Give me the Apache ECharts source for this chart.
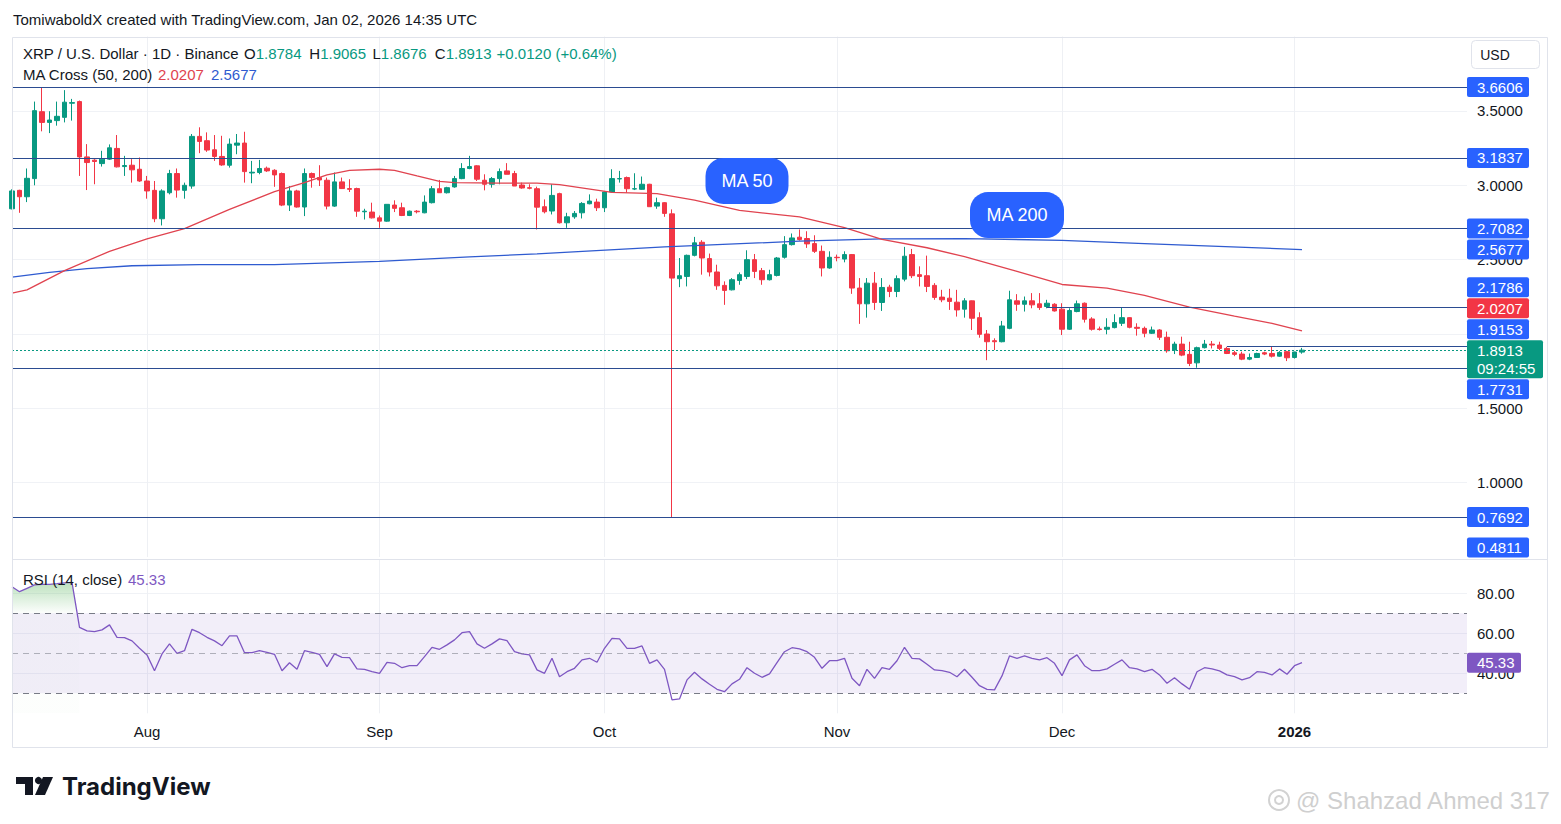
<!DOCTYPE html>
<html><head><meta charset="utf-8">
<script src="https://cdn.jsdelivr.net/npm/echarts@6/dist/echarts.min.js"></script>
<style>html,body{margin:0;padding:0;background:#fff;overflow:hidden}#chart{width:1561px;height:824px}</style>
</head><body><div id="chart"></div>
<script>
// ---------- DATA ----------
const startDate = [2025, 6, 14];   // 14 Jul 2025 (month 0-based)
const dayCount = 195;              // daily categories shown on the time axis
const monthNames = ['Jan','Feb','Mar','Apr','May','Jun','Jul','Aug','Sep','Oct','Nov','Dec'];

const opens = [
2.842,2.966,2.923,3.045,3.495,3.423,3.435,3.457,3.552,3.563,
3.191,3.169,3.146,3.176,3.248,3.126,3.135,3.108,3.029,2.966,
2.775,2.950,3.079,2.966,2.995,3.329,3.300,3.239,3.194,3.135,
3.270,3.284,3.083,3.086,3.115,3.101,3.079,2.867,2.962,2.854,
3.079,3.052,3.034,2.860,3.023,2.978,2.978,2.822,2.820,2.781,
2.759,2.867,2.849,2.797,2.826,2.815,2.883,2.977,2.950,2.989,
3.045,3.113,3.131,3.034,3.007,3.045,3.097,3.079,3.002,2.984,
2.977,2.856,2.827,2.944,2.748,2.788,2.815,2.876,2.887,2.849,
2.955,3.043,3.052,2.975,2.973,3.007,2.860,2.883,2.808,2.372,
2.387,2.529,2.617,2.507,2.417,2.327,2.297,2.360,2.387,2.500,
2.426,2.365,2.394,2.516,2.601,2.651,2.642,2.608,2.556,2.444,
2.516,2.504,2.534,2.309,2.203,2.342,2.212,2.315,2.286,2.369,
2.534,2.399,2.392,2.327,2.248,2.241,2.214,2.167,2.223,2.110,
2.000,1.955,1.948,2.038,2.223,2.200,2.223,2.203,2.185,2.200,
2.167,2.032,2.151,2.207,2.101,2.034,2.032,2.043,2.072,2.110,
2.045,2.038,2.005,2.027,1.978,1.892,1.932,1.863,1.806,1.908,
1.932,1.926,1.903,1.874,1.865,1.831,1.842,1.874,1.869,1.851,
1.881,1.842,1.8784];
const highs = [
2.973,2.970,3.113,3.563,3.6606,3.498,3.563,3.640,3.581,3.570,
3.277,3.176,3.232,3.275,3.338,3.198,3.176,3.187,3.063,3.029,
2.973,3.104,3.113,3.018,3.345,3.390,3.356,3.338,3.333,3.315,
3.345,3.360,3.164,3.171,3.126,3.108,3.086,2.995,2.970,3.113,
3.086,3.135,3.052,3.086,3.052,3.041,2.984,2.842,2.883,2.797,
2.872,2.899,2.883,2.830,2.833,2.932,2.995,3.036,2.990,3.063,
3.149,3.198,3.135,3.074,3.056,3.113,3.149,3.097,3.018,3.007,
2.991,2.905,3.007,2.950,2.815,2.827,2.887,2.939,2.910,2.962,
3.108,3.097,3.059,3.081,3.059,3.010,2.917,2.887,2.838,2.511,
2.534,2.653,2.631,2.541,2.466,2.354,2.376,2.414,2.563,2.538,
2.444,2.432,2.518,2.658,2.676,2.703,2.691,2.664,2.595,2.556,
2.534,2.556,2.538,2.376,2.376,2.417,2.376,2.331,2.394,2.586,
2.572,2.455,2.527,2.342,2.297,2.304,2.297,2.241,2.225,2.146,
2.027,1.971,2.088,2.291,2.268,2.252,2.275,2.275,2.230,2.207,
2.207,2.173,2.225,2.212,2.113,2.050,2.106,2.133,2.180,2.113,
2.072,2.050,2.050,2.032,2.016,1.948,1.982,1.948,1.915,1.960,
1.953,1.948,1.914,1.887,1.881,1.869,1.874,1.881,1.914,1.885,
1.887,1.881,1.9065];
const lows = [
2.838,2.815,2.887,3.000,3.363,3.351,3.401,3.423,3.435,3.063,
2.968,3.007,3.126,3.170,3.120,3.063,3.018,3.023,2.910,2.752,
2.730,2.939,2.917,2.910,2.977,3.216,3.225,3.164,3.131,3.119,
3.209,3.018,3.014,3.074,3.090,2.990,2.860,2.827,2.850,2.793,
2.984,2.995,2.838,2.855,2.975,2.955,2.788,2.770,2.777,2.714,
2.755,2.820,2.793,2.793,2.811,2.812,2.878,2.950,2.945,2.984,
3.041,3.108,3.029,2.966,2.984,3.007,3.074,2.995,2.977,2.973,
2.703,2.811,2.804,2.743,2.714,2.775,2.777,2.872,2.827,2.820,
2.950,3.018,2.950,2.968,2.970,2.856,2.842,2.788,0.7692,2.315,
2.320,2.522,2.399,2.387,2.297,2.196,2.293,2.331,2.369,2.376,
2.331,2.360,2.387,2.507,2.595,2.628,2.579,2.545,2.387,2.439,
2.489,2.482,2.270,2.068,2.110,2.162,2.155,2.248,2.248,2.354,
2.376,2.320,2.282,2.230,2.214,2.162,2.117,2.110,2.027,1.975,
1.824,1.892,1.944,2.032,2.156,2.151,2.173,2.162,2.173,2.151,
1.993,2.027,2.146,2.077,2.023,2.023,1.998,2.038,2.054,2.038,
1.989,1.978,2.000,1.960,1.874,1.865,1.851,1.784,1.7731,1.903,
1.903,1.892,1.865,1.851,1.824,1.824,1.840,1.858,1.842,1.847,
1.818,1.835,1.8676];
const closes = [
2.962,2.923,3.047,3.502,3.423,3.439,3.464,3.559,3.556,3.191,
3.153,3.160,3.176,3.252,3.124,3.133,3.104,3.029,2.962,2.775,
2.962,3.079,2.968,3.000,3.329,3.295,3.237,3.194,3.137,3.277,
3.284,3.092,3.088,3.113,3.097,3.070,2.867,2.962,2.854,3.079,
3.052,3.036,2.860,3.023,2.978,2.973,2.826,2.826,2.781,2.759,
2.872,2.845,2.797,2.826,2.822,2.887,2.977,2.950,2.984,3.045,
3.113,3.126,3.041,3.007,3.045,3.092,3.074,2.995,2.982,2.980,
2.853,2.822,2.932,2.748,2.788,2.811,2.878,2.894,2.849,2.955,
3.045,3.045,2.977,2.977,3.007,2.856,2.883,2.811,2.376,2.392,
2.529,2.613,2.511,2.417,2.324,2.293,2.365,2.399,2.500,2.421,
2.365,2.399,2.511,2.601,2.646,2.635,2.606,2.556,2.444,2.516,
2.513,2.534,2.309,2.203,2.342,2.212,2.313,2.286,2.372,2.523,
2.392,2.387,2.320,2.246,2.230,2.219,2.162,2.223,2.106,1.998,
1.948,1.948,2.054,2.230,2.200,2.223,2.196,2.178,2.207,2.155,
2.032,2.158,2.203,2.099,2.032,2.030,2.045,2.077,2.110,2.045,
2.038,2.005,2.027,1.978,1.887,1.932,1.858,1.802,1.908,1.932,
1.926,1.903,1.869,1.863,1.831,1.842,1.869,1.865,1.851,1.876,
1.840,1.879,1.8913];

const rsiValues = [
83.3,80.8,82.5,84.2,84.5,84.5,84.8,85.2,85.5,63.0,
61.2,60.8,61.7,64.2,58.0,57.8,56.2,52.5,49.2,41.3,
49.7,54.7,50.0,51.3,62.0,60.3,58.0,56.2,53.8,58.7,
58.7,50.3,50.3,51.3,50.5,49.5,41.3,45.3,42.0,51.3,
50.5,49.5,43.3,49.7,48.0,47.8,42.2,42.0,40.8,40.0,
45.5,45.0,42.8,43.8,43.8,48.3,53.0,52.0,54.2,56.7,
60.3,60.8,54.7,52.5,54.7,57.2,56.3,50.8,49.7,49.2,
41.7,40.0,47.5,38.3,40.8,42.5,46.7,47.5,45.5,52.5,
57.5,57.2,52.5,52.5,53.7,45.0,46.7,42.0,26.7,27.2,
36.7,40.5,37.2,34.5,32.0,30.8,34.7,37.0,42.8,40.0,
38.0,39.7,45.3,50.8,52.8,52.2,50.8,48.0,42.5,46.3,
46.3,47.5,37.5,33.8,42.0,37.5,42.8,42.0,46.3,53.0,
47.5,47.2,44.5,41.7,41.3,40.5,38.3,42.0,38.0,33.8,
32.0,31.7,38.7,48.7,47.5,48.7,47.5,46.7,47.8,45.0,
38.8,46.7,49.2,43.8,41.3,41.3,42.2,44.5,46.7,42.8,
42.2,40.8,42.0,39.2,35.0,37.8,34.7,32.0,40.8,42.8,
42.2,41.2,39.2,38.3,36.7,37.8,40.8,40.5,39.2,42.2,
39.5,43.8,45.33];
const rsiOverboughtCount = 10;   // first points where RSI sits above 70

// moving averages read at sample days (day index from 14 Jul)
const ma50Days = [0,2,7,13,18,23,29,35,39,42,45,49,51,54,57,59,65,70,73,80,86,91,97,105,111,116,122,127,134,140,146,151,157,163,168,172];
const ma50Values = [2.275,2.297,2.426,2.556,2.639,2.709,2.838,2.957,3.018,3.070,3.100,3.108,3.100,3.063,3.027,3.018,3.014,3.014,3.004,2.952,2.944,2.900,2.831,2.787,2.716,2.637,2.580,2.520,2.421,2.333,2.308,2.260,2.180,2.120,2.072,2.0207];
const ma200Days = [0,5,10,16,25,35,49,61,70,87,105,116,127,140,151,160,172];
const ma200Values = [2.383,2.414,2.439,2.459,2.466,2.466,2.489,2.518,2.539,2.586,2.624,2.640,2.642,2.630,2.608,2.591,2.5677];

// drawn horizontal levels
const fullLevels = [3.6606, 3.1837, 2.7082, 1.7731, 0.7692];
const rayLevels = [[138, 2.1786], [162, 1.9153]];
const offLevels = [0.4811];
const lastPrice = 1.8913, countdown = '09:24:55';
const ma50Last = 2.0207, ma200Last = 2.5677, rsiLast = 45.33;
const priceAxis = {min: 0.5, max: 4.0, step: 0.5};
const rsiAxis = {min: 20, max: 97.15, step: 20};
const rsiBands = {upper: 70, mid: 50, lower: 30};
const ohlcLegend = {O: '1.8784', H: '1.9065', L: '1.8676', C: '1.8913', chg: '+0.0120 (+0.64%)'};
const bubbles = [{text: 'MA 50', day: 98, price: 3.029, w: 83}, {text: 'MA 200', day: 134, price: 2.800, w: 94}];

// ---------- BUILD ----------
const F = '"Liberation Sans", Arial, sans-serif';
const DARK = '#131722', UP = '#089981', DOWN = '#F23645', BLUE = '#2962FF', LINE = '#2B4C91', PURPLE = '#7E57C2';
const MA50C = '#E0434F', MA200C = '#2F5BD0';
const categories = [];
const t0 = Date.UTC(startDate[0], startDate[1], startDate[2]);
for (let i = 0; i < dayCount; i++) categories.push(new Date(t0 + i * 864e5).toISOString().slice(0, 10));
const isMonthStart = (idx, val) => val.slice(8) === '01';
const candleData = opens.map((o, i) => [o, closes[i], lows[i], highs[i]]);
const ma50Data = ma50Days.map((d, i) => [categories[d], ma50Values[i]]);
const ma200Data = ma200Days.map((d, i) => [categories[d], ma200Values[i]]);
const lastCat = categories[dayCount - 1];

const hLines = fullLevels.map(v => ({yAxis: v}));
rayLevels.forEach(([d, v]) => hLines.push([{coord: [categories[d], v]}, {coord: [lastCat, v]}]));
hLines.push({yAxis: lastPrice, lineStyle: {type: [2, 2], color: UP, width: 1}});

const bubblePoint = b => ({coord: [categories[b.day], b.price],
  label: {show: true, position: 'inside', formatter: b.text, color: '#fff', fontSize: 18, fontFamily: F,
    backgroundColor: BLUE, borderRadius: 18, width: b.w, height: 46, lineHeight: 46, align: 'center', verticalAlign: 'middle'}});

// tick labels hidden when a price tag fully covers them (filled after layout)
let coveredPrice = [];
const priceLabel = v => coveredPrice.some(c => Math.abs(c - v) < 1e-9) ? '' : v.toFixed(4);

const GL = 12, GR = 94;
const option = {
  animation: false,
  textStyle: {fontFamily: F},
  grid: [
    {left: GL, right: GR, top: 36.6, height: 520.45},
    {left: GL, right: GR, top: 559, height: 154.3}
  ],
  xAxis: [
    {type: 'category', gridIndex: 0, data: categories, boundaryGap: false,
     axisLine: {show: false}, axisTick: {show: false}, axisLabel: {show: false},
     splitLine: {show: true, interval: isMonthStart, lineStyle: {color: '#eef0f4'}}},
    {type: 'category', gridIndex: 1, data: categories, boundaryGap: false,
     axisLine: {show: false}, axisTick: {show: false},
     axisLabel: {interval: isMonthStart, color: DARK, fontSize: 15, fontFamily: F, margin: 11,
       formatter: v => { const p = v.split('-'); return p[1] === '01' ? '{b|' + p[0] + '}' : monthNames[+p[1] - 1]; },
       rich: {b: {fontWeight: 'bold', fontSize: 15, color: DARK, fontFamily: F}}},
     splitLine: {show: true, interval: isMonthStart, lineStyle: {color: '#eef0f4'}}}
  ],
  yAxis: [
    {type: 'value', gridIndex: 0, position: 'right', min: priceAxis.min, max: priceAxis.max, interval: priceAxis.step,
     axisLine: {show: false}, axisTick: {show: false},
     axisLabel: {formatter: priceLabel, color: DARK, fontSize: 15, fontFamily: F, margin: 10, showMinLabel: false, showMaxLabel: false},
     splitLine: {lineStyle: {color: '#f0f2f6'}, showMinLine: false, showMaxLine: false}},
    {type: 'value', gridIndex: 1, position: 'right', min: rsiAxis.min, max: rsiAxis.max, interval: rsiAxis.step,
     axisLine: {show: false}, axisTick: {show: false},
     axisLabel: {formatter: v => v.toFixed(2), color: DARK, fontSize: 15, fontFamily: F, margin: 10, showMinLabel: false, showMaxLabel: false},
     splitLine: {lineStyle: {color: '#f0f2f6'}, showMinLine: false, showMaxLine: false}}
  ],
  series: [
    {type: 'candlestick', xAxisIndex: 0, yAxisIndex: 0, data: candleData, barWidth: 5, clip: true,
     itemStyle: {color: UP, color0: DOWN, borderColor: UP, borderColor0: DOWN, borderWidth: 1},
     markLine: {silent: true, symbol: ['none', 'none'], label: {show: false}, animation: false,
       lineStyle: {color: LINE, width: 1, type: 'solid'}, data: hLines}, z: 2},
    {type: 'line', name: 'MA200', xAxisIndex: 0, yAxisIndex: 0, data: ma200Data, showSymbol: false, symbol: 'none',
     lineStyle: {color: MA200C, width: 1.3}, z: 3,
     markPoint: {symbol: 'rect', symbolSize: 1, itemStyle: {color: 'rgba(0,0,0,0)'}, silent: true, data: [bubblePoint(bubbles[1])]}},
    {type: 'line', name: 'MA50', xAxisIndex: 0, yAxisIndex: 0, data: ma50Data, showSymbol: false, symbol: 'none',
     lineStyle: {color: MA50C, width: 1.3}, z: 3,
     markPoint: {symbol: 'rect', symbolSize: 1, itemStyle: {color: 'rgba(0,0,0,0)'}, silent: true, data: [bubblePoint(bubbles[0])]}},
    {type: 'line', id: 'rsiOB', xAxisIndex: 1, yAxisIndex: 1, data: rsiValues.slice(0, rsiOverboughtCount),
     showSymbol: false, symbol: 'none', lineStyle: {width: 0, opacity: 0}, areaStyle: {color: 'rgba(76,175,80,0)'}, z: 1},
    {type: 'line', name: 'RSI', xAxisIndex: 1, yAxisIndex: 1, data: rsiValues, showSymbol: false, symbol: 'none',
     lineStyle: {color: PURPLE, width: 1.3}, z: 3,
     markArea: {silent: true, itemStyle: {color: 'rgba(126,87,194,0.1)'}, data: [[{yAxis: rsiBands.lower}, {yAxis: rsiBands.upper}]]},
     markLine: {silent: true, symbol: ['none', 'none'], label: {show: false},
       lineStyle: {color: '#787B86', width: 1, type: [6, 5]},
       data: [{yAxis: rsiBands.upper}, {yAxis: rsiBands.mid, lineStyle: {color: 'rgba(120,123,134,0.55)', type: [6, 5]}}, {yAxis: rsiBands.lower}]}}
  ]
};

const chart = echarts.init(document.getElementById('chart'), null, {renderer: 'svg', width: 1561, height: 824});
chart.setOption(option);

// ---------- OVERLAYS (positions from the chart's own scales) ----------
const yP = v => chart.convertToPixel({yAxisIndex: 0}, v);
const yR = v => chart.convertToPixel({yAxisIndex: 1}, v);
const G = [];
const txt = (x, y, text, fill, size, extra) => Object.assign({type: 'text', x, y, z: 100,
  style: {text, fill, fontSize: size || 15, fontFamily: F, verticalAlign: 'middle'}}, extra || {});

// frame
G.push({type: 'rect', z: 90, shape: {x: 12.5, y: 37.5, width: 1535, height: 710}, style: {fill: 'none', stroke: '#e0e3eb', lineWidth: 1}});
G.push({type: 'line', z: 90, shape: {x1: 12, y1: 559.5, x2: 1548, y2: 559.5}, style: {stroke: '#e0e3eb', lineWidth: 1}});

// header and legends
G.push(txt(13, 19, 'TomiwaboldX created with TradingView.com, Jan 02, 2026 14:35 UTC', DARK));
G.push(txt(23, 53, 'XRP / U.S. Dollar · 1D · Binance', DARK));
const rich = {k: {fill: DARK, fontSize: 15, fontFamily: F}, v: {fill: UP, fontSize: 15, fontFamily: F}};
[['O', 244], ['H', 309.3], ['L', 372.5], ['C', 434.8]].forEach(([k, x]) => {
  G.push({type: 'text', x, y: 53, z: 100, style: {text: '{k|' + k + '}{v|' + ohlcLegend[k] + '}', rich, verticalAlign: 'middle', fontSize: 15, fontFamily: F}});
});
G.push(txt(496.6, 53, ohlcLegend.chg, UP));
G.push(txt(23, 74, 'MA Cross (50, 200)', DARK));
G.push(txt(158, 74, ma50Last.toFixed(4), MA50C));
G.push(txt(211, 74, ma200Last.toFixed(4), MA200C));
G.push(txt(23, 579, 'RSI (14, close)', DARK));
G.push(txt(128, 579, rsiLast.toFixed(2), PURPLE));

// USD button
G.push({type: 'rect', z: 100, shape: {x: 1471.5, y: 40.5, width: 68, height: 28, r: 4}, style: {fill: '#fff', stroke: '#e0e3eb', lineWidth: 1}});
G.push({type: 'text', x: 1495, y: 55, z: 101, style: {text: 'USD', fill: DARK, fontSize: 14, fontFamily: F, align: 'center', verticalAlign: 'middle'}});

// price scale tags with collision resolution
const tags = [];
fullLevels.concat(offLevels).forEach(v => tags.push({v, bg: BLUE}));
rayLevels.forEach(([d, v]) => tags.push({v, bg: BLUE}));
tags.push({v: ma50Last, bg: DOWN});
tags.push({v: ma200Last, bg: BLUE});
tags.push({v: lastPrice, bg: UP, sub: countdown, anchor: true});
tags.forEach(t => { t.y = yP(t.v); t.h = t.sub ? 38 : 20; t.top = t.y - 10; t.w = t.sub ? 76 : 62; });
tags.sort((a, b) => a.y - b.y);
const a = tags.findIndex(t => t.anchor);
for (let i = a - 1; i >= 0; i--) { const lim = tags[i + 1].top - 1 - tags[i].h; if (tags[i].top > lim) tags[i].top = lim; }
for (let i = a + 1; i < tags.length; i++) { const lim = tags[i - 1].top + tags[i - 1].h + 1; if (tags[i].top < lim) tags[i].top = lim; }
const paneBottom = 557.5;
for (let i = tags.length - 1; i >= 0; i--) {
  const lim = i === tags.length - 1 ? paneBottom - tags[i].h : tags[i + 1].top - 1 - tags[i].h;
  if (tags[i].top > lim) tags[i].top = lim;
}
tags.forEach(t => {
  G.push({type: 'rect', z: 110, shape: {x: 1467, y: t.top, width: t.w, height: t.h, r: 2}, style: {fill: t.bg}});
  G.push(txt(1477, t.top + 10, t.v.toFixed(4), '#fff', 15, {z: 111}));
  if (t.sub) G.push(txt(1477, t.top + 28, t.sub, '#fff', 15, {z: 111}));
});
// axis ticks whose label sits completely under a tag are not drawn (as on the platform)
for (let v = priceAxis.min; v <= priceAxis.max + 1e-9; v += priceAxis.step) {
  const y = yP(v);
  if (tags.some(t => t.top <= y - 4 && t.top + t.h >= y + 4)) coveredPrice.push(v);
}
// RSI tag
const ry = yR(rsiLast);
G.push({type: 'rect', z: 110, shape: {x: 1467, y: ry - 10, width: 54, height: 20, r: 2}, style: {fill: PURPLE}});
G.push(txt(1477, ry, rsiLast.toFixed(2), '#fff', 15, {z: 111}));

// TradingView logo
G.push({type: 'rect', z: 100, shape: {x: 16, y: 777, width: 17, height: 7}, style: {fill: DARK}});
G.push({type: 'rect', z: 100, shape: {x: 25, y: 777, width: 8, height: 18}, style: {fill: DARK}});
G.push({type: 'circle', z: 100, shape: {cx: 38.5, cy: 780.5, r: 3.6}, style: {fill: DARK}});
G.push({type: 'polygon', z: 100, shape: {points: [[43, 777], [53, 777], [45, 795], [35, 795]]}, style: {fill: DARK}});
G.push({type: 'text', x: 62, y: 786, z: 100, style: {text: 'TradingView', fill: DARK, fontSize: 24, fontWeight: 'bold', fontFamily: 'Inter, "Liberation Sans", sans-serif', verticalAlign: 'middle'}});

// watermark
G.push({type: 'circle', z: 100, shape: {cx: 1279, cy: 800, r: 10}, style: {fill: 'none', stroke: '#d2d2d2', lineWidth: 2}});
G.push({type: 'circle', z: 100, shape: {cx: 1279, cy: 800, r: 4}, style: {fill: 'none', stroke: '#d2d2d2', lineWidth: 2}});
G.push({type: 'text', x: 1296, y: 800, z: 100, style: {text: '@ Shahzad Ahmed 317', fill: '#cfcfcf', fontSize: 24, fontFamily: F, verticalAlign: 'middle'}});

chart.setOption({
  graphic: {elements: G},
  yAxis: [{axisLabel: {formatter: priceLabel}}, {}],
  series: [{id: 'rsiOB', areaStyle: {color: new echarts.graphic.LinearGradient(0, yR(86), 0, yR(rsiBands.upper),
    [{offset: 0, color: 'rgba(76,175,80,0.55)'}, {offset: 1, color: 'rgba(76,175,80,0.02)'}], true)}}]
});
</script></body></html>
